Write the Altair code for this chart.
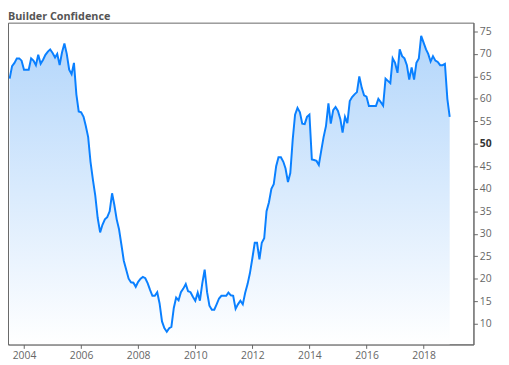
import altair as alt
import pandas as pd

TITLE = "Builder Confidence"
START_MONTH = "2003-07-01"

v2003 = [64.5, 67.3, 68, 69, 69, 68.5]
v2004 = [66.5, 66.5, 66.5, 69, 68.5, 67.5, 69.8, 67.8, 68.7, 69.8, 70.5, 71]
v2005 = [70.2, 69.2, 70, 67.5, 70.3, 72.3, 70, 66.5, 65.5, 68, 61, 57.2]
v2006 = [57, 56, 54, 51.5, 46, 42, 38.5, 33.5, 30.3, 32, 33.2, 33.7]
v2007 = [35, 39, 36.5, 33.2, 31, 27.5, 24, 22, 20, 19.2, 19.1, 18.2]
v2008 = [19.3, 20, 20.4, 20.1, 19, 17.5, 16.2, 16.2, 17, 14.5, 10.5, 9]
v2009 = [8.2, 9, 9.3, 13.5, 15.8, 15.2, 17, 17.8, 18.8, 17.2, 17, 16]
v2010 = [15.1, 16.9, 15.1, 19, 22, 17, 14, 13.1, 13.1, 14.3, 15.6, 16.2]
v2011 = [16.2, 16.2, 16.9, 16.3, 16.2, 13.3, 14.3, 15.1, 14.3, 16.8, 18.8, 21.2]
v2012 = [24.5, 28, 28, 24.3, 28, 29, 35, 37, 40, 41, 45, 47]
v2013 = [47, 46, 44.5, 41.5, 43.5, 51, 56.5, 58, 57, 54.5, 54.4, 56]
v2014 = [56.5, 46.5, 46.4, 46.2, 45.3, 48.5, 51.5, 54, 59, 54.5, 57.5, 58.2]
v2015 = [57.3, 55.5, 52.5, 56, 54.6, 59.5, 60.4, 61, 61.5, 65, 62.5, 60.8]
v2016 = [60.5, 58.4, 58.4, 58.4, 58.4, 60, 59.3, 58.5, 64.5, 64, 63.5, 69]
v2017 = [68, 65.8, 71, 69.5, 69, 67.5, 64.3, 67, 64.3, 68, 69, 74]
v2018 = [72.5, 71, 70, 68.3, 69.5, 68.5, 68.2, 67.5, 67.5, 67.8, 60, 56]

values = (v2003 + v2004 + v2005 + v2006 + v2007 + v2008 + v2009 + v2010
          + v2011 + v2012 + v2013 + v2014 + v2015 + v2016 + v2017 + v2018)
dates = pd.date_range(START_MONTH, periods=len(values), freq="MS").strftime("%Y-%m-%d")

Y_TICKS = [10, 15, 20, 25, 30, 35, 40, 45, 50, 55, 60, 65, 70, 75]
X_TICK_YEARS = [2004, 2006, 2008, 2010, 2012, 2014, 2016, 2018]
Y_DOMAIN = [5.38, 76.95]
X_DOMAIN = [alt.DateTime(year=2003, month=6, date=10, utc=True),
            alt.DateTime(year=2019, month=10, date=1, utc=True)]

df = pd.DataFrame({"date": dates, "value": values})
title_df = pd.DataFrame({"label": [TITLE]})

FONT = "Open Sans"
GRAY = "#666666"

x_enc = alt.X(
    "date:T",
    scale=alt.Scale(type="utc", domain=X_DOMAIN),
    axis=alt.Axis(
        values=[alt.DateTime(year=y, month=1, date=1, utc=True) for y in X_TICK_YEARS],
        format="%Y",
        title=None,
    ),
)
y_enc = alt.Y(
    "value:Q",
    scale=alt.Scale(domain=Y_DOMAIN, nice=False, zero=False),
    axis=alt.Axis(
        orient="right",
        values=Y_TICKS,
        title=None,
        labelFontWeight={"condition": {"test": "datum.value == 50", "value": "bold"}, "value": "normal"},
        labelColor={"condition": {"test": "datum.value == 50", "value": "#333333"}, "value": GRAY},
    ),
)

base = alt.Chart(df)

area = base.mark_area(
    clip=True,
    color=alt.Gradient(
        gradient="linear",
        stops=[alt.GradientStop(color="#b3d6fb", offset=0),
               alt.GradientStop(color="#ffffff", offset=1)],
        x1=0, x2=0, y1=0, y2=1,
    ),
).encode(x=x_enc, y=y_enc, y2=alt.datum(Y_DOMAIN[0]))

line = base.mark_line(clip=True, color="#0a80ff", strokeWidth=2).encode(x=x_enc, y=y_enc)

title = alt.Chart(title_df).mark_text(
    align="left", baseline="alphabetic", font=FONT, fontSize=11,
    fontWeight="bold", color="#555555",
).encode(text="label:N", x=alt.value(0), y=alt.value(-3))

chart = (
    alt.layer(area, line, title)
    .properties(
        width=473,
        height=327,
        autosize="none",
        padding={"left": 0, "top": 12, "right": 28, "bottom": 18},
    )
    .configure_view(stroke=GRAY, strokeWidth=1)
    .configure_axis(
        grid=False,
        labelFont=FONT,
        labelFontSize=10.5,
        labelColor=GRAY,
        tickColor=GRAY,
        domainColor=GRAY,
        tickSize=4,
        labelPadding=2,
    )
)

chart.save("out.html", embed_options={"renderer": "svg", "actions": False})
